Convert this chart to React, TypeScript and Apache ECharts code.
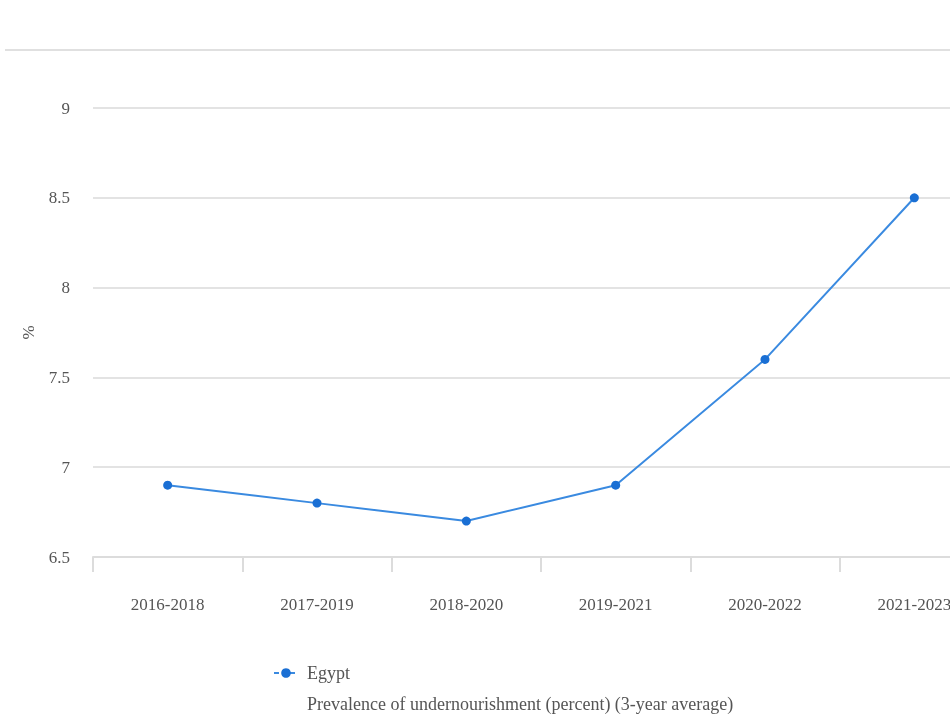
import React, { useEffect, useRef } from "react";
import * as echarts from "echarts";

const categories = ["2016-2018", "2017-2019", "2018-2020", "2019-2021", "2020-2022", "2021-2023"];
const egyptValues = [6.9, 6.8, 6.7, 6.9, 7.6, 8.5];
const seriesName = "Egypt";
const indicatorLabel = "Prevalence of undernourishment (percent) (3-year average)";

export default function App() {
  const ref = useRef<HTMLDivElement>(null);
  useEffect(() => {
    if (!ref.current) return;
    const chart = echarts.init(ref.current, null, { renderer: "svg" });
    const font = "'Liberation Serif', 'Times New Roman', serif";
    chart.setOption({
      animation: false,
      textStyle: { fontFamily: font },
      grid: { left: 93, right: 0, top: 108, bottom: 169 },
      xAxis: {
        type: "category",
        data: categories,
        boundaryGap: true,
        axisLine: { lineStyle: { color: "#dcdcdc", width: 2 } },
        axisTick: { show: true, length: 15, lineStyle: { color: "#dcdcdc", width: 2 } },
        axisLabel: { color: "#555", fontSize: 17, margin: 39, fontFamily: font },
        splitLine: { show: false },
      },
      yAxis: {
        type: "value",
        min: 6.5,
        max: 9,
        interval: 0.5,
        name: "%",
        nameLocation: "middle",
        nameGap: 56,
        nameRotate: 90,
        nameTextStyle: { color: "#555", fontSize: 17, fontFamily: font },
        axisLine: { show: false },
        axisTick: { show: false },
        axisLabel: { color: "#555", fontSize: 17, margin: 23, fontFamily: font },
        splitLine: { lineStyle: { color: "#e3e3e3", width: 2 } },
      },
      legend: {
        left: 268,
        top: 659,
        itemWidth: 24,
        itemHeight: 12,
        textStyle: { color: "#555", fontSize: 18, fontFamily: font, padding: [0, 0, 0, 4] },
        lineStyle: { type: [5, 3] },
        data: [seriesName],
      },
      graphic: [
        {
          type: "line",
          shape: { x1: 5, y1: 50, x2: 950, y2: 50 },
          style: { stroke: "#e0e0e0", lineWidth: 2 },
        },
        {
          type: "text",
          left: 307,
          top: 695,
          style: { text: indicatorLabel, fill: "#555", fontSize: 18, fontFamily: font },
        },
      ],
      series: [
        {
          name: seriesName,
          type: "line",
          data: egyptValues,
          symbol: "circle",
          symbolSize: 9,
          itemStyle: { color: "#1a6fd4" },
          lineStyle: { color: "#3a8ae0", width: 2 },
        },
      ],
    });
    return () => chart.dispose();
  }, []);
  return (
    <div style={{ position: "fixed", left: 0, top: 0, width: 950, height: 726, overflow: "hidden" }}>
      <div ref={ref} style={{ width: 989, height: 726 }} />
    </div>
  );
}
